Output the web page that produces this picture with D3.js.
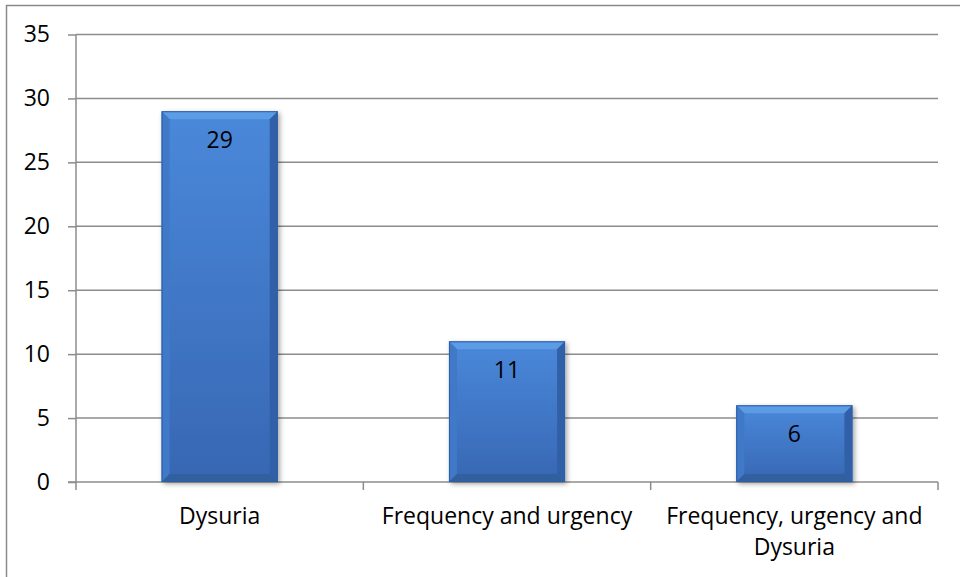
<!DOCTYPE html>
<html>
<head>
<meta charset="utf-8">
<script src="https://cdn.jsdelivr.net/npm/d3@7"></script>
<style>
  html, body { margin: 0; padding: 0; background: #fff; }
  svg text { font-family: "Open Sans", "Noto Sans", sans-serif; fill: #000; }
</style>
</head>
<body>
<svg id="chart" width="960" height="577"></svg>
<script>
// Symptom counts
const categories = ["Dysuria", "Frequency and urgency", "Frequency, urgency and\nDysuria"];
const values = [29, 11, 6];
const yTicks = [0, 5, 10, 15, 20, 25, 30, 35];

const svg = d3.select("#chart");
const W = 960, H = 577;
const plot = { left: 76, right: 938, top: 34.5, bottom: 482 };
const fontSize = 23;

// Outer chart frame
svg.append("rect")
  .attr("x", 6.5).attr("y", 5.5)
  .attr("width", W + 10).attr("height", H + 10)
  .attr("fill", "none").attr("stroke", "#8a8a8a").attr("stroke-width", 1.5);

const x = d3.scaleBand().domain(categories)
  .range([plot.left, plot.right]).paddingInner(0.596).paddingOuter(0.298);
const xOuter = d3.scaleBand().domain(categories).range([plot.left, plot.right]);
const y = d3.scaleLinear().domain([0, 35]).range([plot.bottom, plot.top]);

const defs = svg.append("defs");
const face = defs.append("linearGradient").attr("id", "face")
  .attr("x1", 0).attr("y1", 0).attr("x2", 0).attr("y2", 1);
face.append("stop").attr("offset", "0%").attr("stop-color", "#4a88da");
face.append("stop").attr("offset", "100%").attr("stop-color", "#3767b3");

const shadow = defs.append("filter").attr("id", "shadow")
  .attr("x", "-10%").attr("y", "-10%").attr("width", "130%").attr("height", "130%");
shadow.append("feDropShadow").attr("dx", 2).attr("dy", 2).attr("stdDeviation", 2.5)
  .attr("flood-color", "#000").attr("flood-opacity", 0.35);

// Gridlines
const grid = svg.append("g");
grid.selectAll("line").data(yTicks.filter(d => d > 0)).join("line")
  .attr("x1", plot.left).attr("x2", plot.right)
  .attr("y1", d => y(d)).attr("y2", d => y(d))
  .attr("stroke", "#8c8c8c").attr("stroke-width", 1.5);

// Y axis
const yAxis = svg.append("g").attr("transform", `translate(${plot.left},0)`)
  .call(d3.axisLeft(y).tickValues(yTicks).tickSize(8).tickPadding(18));
yAxis.select(".domain").attr("stroke", "#8c8c8c").attr("stroke-width", 1.5)
  .attr("d", `M0,${plot.top}V${plot.bottom}`);
yAxis.selectAll(".tick line").attr("stroke", "#8c8c8c").attr("stroke-width", 1.5);
yAxis.selectAll(".tick text").attr("font-size", fontSize)
  .style("font-family", '"Open Sans", "Noto Sans", sans-serif').attr("fill", "#000");

// X axis baseline and tick marks at category boundaries
const bounds = categories.map(c => xOuter(c)).concat([plot.right]);
svg.append("line")
  .attr("x1", plot.left - 8).attr("x2", plot.right)
  .attr("y1", y(0)).attr("y2", y(0))
  .attr("stroke", "#8c8c8c").attr("stroke-width", 1.5);
svg.append("g").selectAll("line").data(bounds).join("line")
  .attr("x1", d => d).attr("x2", d => d)
  .attr("y1", y(0)).attr("y2", y(0) + 8)
  .attr("stroke", "#8c8c8c").attr("stroke-width", 1.5);

// Bars with bevelled edges
const bev = 8;
const bars = svg.append("g").selectAll("g").data(values).join("g")
  .attr("filter", "url(#shadow)");
bars.each(function(v, i) {
  const g = d3.select(this);
  const x0 = x(categories[i]), w = x.bandwidth();
  const y0 = y(v), h = y(0) - y(v);
  const x1 = x0 + w, y1 = y0 + h;
  g.append("rect").attr("x", x0).attr("y", y0).attr("width", w).attr("height", h)
    .attr("fill", "url(#face)");
  const poly = (pts, fill) => g.append("polygon")
    .attr("points", pts.map(p => p.join(",")).join(" ")).attr("fill", fill);
  poly([[x0, y0], [x1, y0], [x1 - bev, y0 + bev], [x0 + bev, y0 + bev]], "#5b9be6");
  poly([[x0, y0], [x0 + bev, y0 + bev], [x0 + bev, y1 - bev], [x0, y1]], "#4079c8");
  poly([[x1, y0], [x1, y1], [x1 - bev, y1 - bev], [x1 - bev, y0 + bev]], "#3261a8");
  poly([[x0, y1], [x0 + bev, y1 - bev], [x1 - bev, y1 - bev], [x1, y1]], "#30609f");
  g.append("rect").attr("x", x0 + 0.5).attr("y", y0 + 0.5).attr("width", w - 1).attr("height", h - 1)
    .attr("fill", "none").attr("stroke", "#2d5ea6").attr("stroke-width", 1);
});

// Value labels inside bars
svg.append("g").selectAll("text").data(values).join("text")
  .attr("x", (d, i) => x(categories[i]) + x.bandwidth() / 2)
  .attr("y", d => y(d) + 37)
  .attr("text-anchor", "middle").attr("font-size", fontSize)
  .text(d => d);

// Category labels
const catG = svg.append("g");
categories.forEach(c => {
  const t = catG.append("text")
    .attr("x", x(c) + x.bandwidth() / 2).attr("y", 524)
    .attr("text-anchor", "middle").attr("font-size", fontSize);
  c.split("\n").forEach((line, j) => {
    t.append("tspan").attr("x", x(c) + x.bandwidth() / 2)
      .attr("dy", j === 0 ? 0 : 31).text(line);
  });
});
</script>
</body>
</html>
